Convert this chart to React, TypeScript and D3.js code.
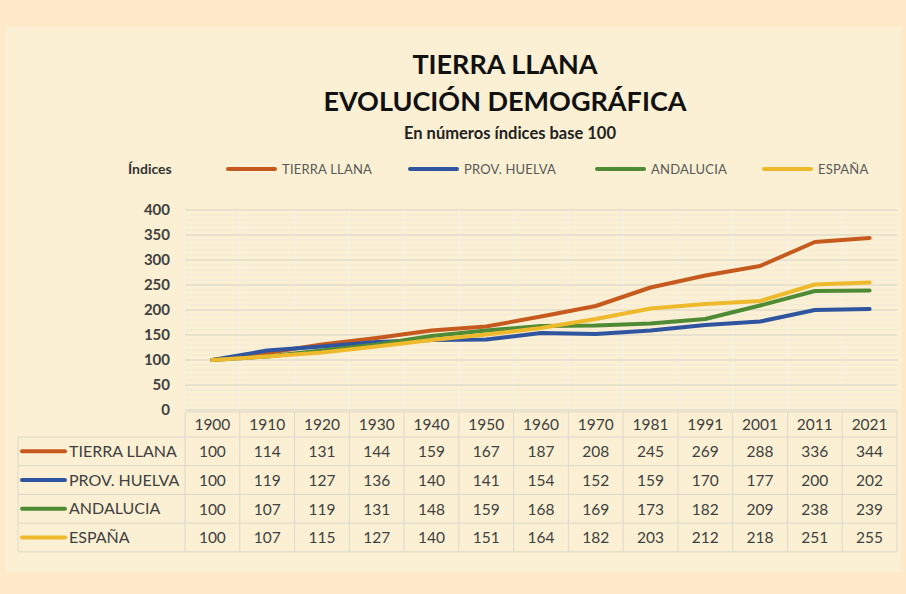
import React, { useEffect } from "react";
import * as d3 from "d3";

const years = ["1900", "1910", "1920", "1930", "1940", "1950", "1960", "1970", "1981", "1991", "2001", "2011", "2021"];
const seriesNames = ["TIERRA LLANA", "PROV. HUELVA", "ANDALUCIA", "ESPAÑA"];
const tierraLlana = [100, 114, 131, 144, 159, 167, 187, 208, 245, 269, 288, 336, 344];
const provHuelva = [100, 119, 127, 136, 140, 141, 154, 152, 159, 170, 177, 200, 202];
const andalucia = [100, 107, 119, 131, 148, 159, 168, 169, 173, 182, 209, 238, 239];
const espana = [100, 107, 115, 127, 140, 151, 164, 182, 203, 212, 218, 251, 255];
const yTicks = [0, 50, 100, 150, 200, 250, 300, 350, 400];
const colors = ["#c65a1e", "#2f55a0", "#4f8a35", "#efb92c"];

const W = 906;
const H = 594;
const plotLeft = 185;
const plotRight = 897;
const plotTop = 210;
const plotBottom = 410;
const rowH = 28.7;
const headerBottom = 437;
const tableLeft = 18;
const font = "Lato, 'Open Sans', sans-serif";

export default function App() {
  useEffect(() => {
    document.body.style.margin = "0";
  }, []);

  const allSeries = [tierraLlana, provHuelva, andalucia, espana];

  const x = d3.scaleBand().domain(years).range([plotLeft, plotRight]);
  const y = d3.scaleLinear().domain([0, 400]).range([plotBottom, plotTop]);
  const line = d3
    .line<number>()
    .x((d, i) => x(years[i])! + x.bandwidth() / 2)
    .y((d) => y(d));

  const minor = d3.range(0, 401, 10).filter((v) => v % 50 !== 0);
  const rowY = (i: number) => headerBottom + i * rowH;

  return (
    <svg width={W} height={H} style={{ display: "block" }}>
      <rect x={0} y={0} width={W} height={H} fill="#fee9c8" />
      <rect x={5} y={27} width={896} height={545} fill="#fbf0d3" />

      {/* titles */}
      <text x={505} y={74} textAnchor="middle" fontFamily={font} fontWeight="bold" fontSize={27} fill="#111">
        TIERRA LLANA
      </text>
      <text x={505} y={111} textAnchor="middle" fontFamily={font} fontWeight="bold" fontSize={27} fill="#111">
        EVOLUCIÓN DEMOGRÁFICA
      </text>
      <text x={510} y={139} textAnchor="middle" fontFamily={font} fontWeight="bold" fontSize={16.5} fill="#222">
        En números índices base 100
      </text>

      {/* legend */}
      <text x={128} y={174} fontFamily={font} fontWeight="bold" fontSize={14} fill="#333">
        Índices
      </text>
      {seriesNames.map((name, i) => {
        const lx = [228, 410, 597, 764][i];
        return (
          <g key={name}>
            <line x1={lx} x2={lx + 47} y1={169} y2={169} stroke={colors[i]} strokeWidth={4} strokeLinecap="round" />
            <text x={lx + 54} y={174} fontFamily={font} fontSize={13} fill="#595959" letterSpacing={0.2}>
              {name}
            </text>
          </g>
        );
      })}

      {/* grid */}
      {minor.map((v) => (
        <line key={"m" + v} x1={plotLeft} x2={plotRight} y1={y(v)} y2={y(v)} stroke="#f2ead8" strokeWidth={1} />
      ))}
      {years.map((yr) => (
        <line key={"v" + yr} x1={x(yr)!} x2={x(yr)!} y1={plotTop} y2={plotBottom} stroke="#f6f1e4" strokeWidth={1.5} />
      ))}
      {yTicks.map((v) => (
        <g key={"t" + v}>
          <line x1={plotLeft} x2={plotRight} y1={y(v)} y2={y(v)} stroke="#e2dccb" strokeWidth={1.5} />
          <text x={170} y={y(v) + 5} textAnchor="end" fontFamily={font} fontWeight="bold" fontSize={15} fill="#404040">
            {v}
          </text>
        </g>
      ))}

      {/* series lines */}
      {allSeries.map((s, i) => (
        <path key={"l" + i} d={line(s)!} fill="none" stroke={colors[i]} strokeWidth={4} strokeLinejoin="round" strokeLinecap="round" />
      ))}

      {/* data table */}
      <g stroke="#dcd8cc" strokeWidth={1} fill="none">
        <line x1={plotLeft} x2={plotRight} y1={plotBottom + 2} y2={plotBottom + 2} />
        {d3.range(5).map((i) => (
          <line key={"h" + i} x1={tableLeft} x2={plotRight} y1={rowY(i)} y2={rowY(i)} />
        ))}
        <line x1={tableLeft} x2={tableLeft} y1={rowY(0)} y2={rowY(4)} />
        {years.map((yr) => (
          <line key={"c" + yr} x1={x(yr)!} x2={x(yr)!} y1={plotBottom + 2} y2={rowY(4)} />
        ))}
        <line x1={plotRight} x2={plotRight} y1={plotBottom + 2} y2={rowY(4)} />
      </g>
      {years.map((yr) => (
        <text key={"yr" + yr} x={x(yr)! + x.bandwidth() / 2} y={430} textAnchor="middle" fontFamily={font} fontSize={15.5} fill="#404040">
          {yr}
        </text>
      ))}
      {seriesNames.map((name, i) => (
        <g key={"row" + name}>
          <line x1={22} x2={65} y1={rowY(i) + rowH / 2} y2={rowY(i) + rowH / 2} stroke={colors[i]} strokeWidth={4} strokeLinecap="round" />
          <text x={69} y={rowY(i) + rowH / 2 + 5.5} fontFamily={font} fontSize={16} fill="#404040">
            {name}
          </text>
          {allSeries[i].map((v, j) => (
            <text key={j} x={x(years[j])! + x.bandwidth() / 2} y={rowY(i) + rowH / 2 + 6} textAnchor="middle" fontFamily={font} fontSize={15.5} fill="#404040">
              {v}
            </text>
          ))}
        </g>
      ))}
    </svg>
  );
}
